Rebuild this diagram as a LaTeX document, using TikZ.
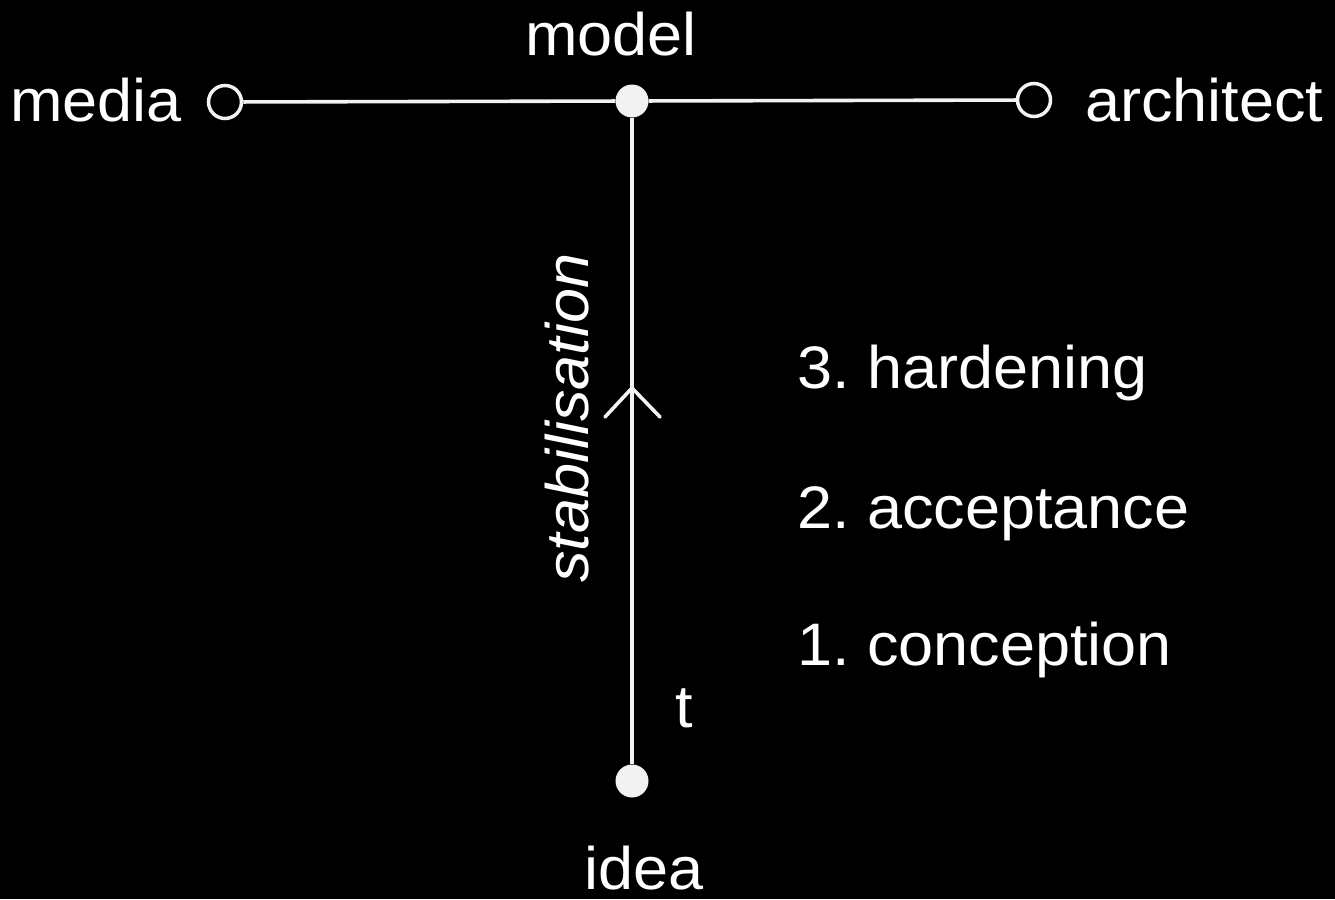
\documentclass[tikz,border=0pt]{standalone}
\usepackage{fontspec}
\setmainfont{Liberation Sans}[FakeStretch=1.05]
\frenchspacing
\begin{document}
\begin{tikzpicture}[x=1pt,y=-1pt,
  lbl/.style={text=white,inner sep=0pt,font=\fontsize{60}{72}\selectfont},
  opendot/.style={circle,draw=white!95!black,fill=black,line width=3.5pt,minimum size=33pt,inner sep=0pt},
  soliddot/.style={circle,fill=white!95!black,minimum size=33pt,inner sep=0pt},
  wire/.style={draw=white!95!black,line width=3.6pt}]
\fill[black] (0,0) rectangle (1335,899);
\useasboundingbox (0,0) rectangle (1335,899);
% dots
\node[opendot] (media) at (225,102) {};
\node[soliddot] (model) at (632,101) {};
\node[opendot] (architect) at (1034,100) {};
\node[soliddot] (idea) at (632,781) {};
% connectors
\draw[wire] (media) -- (model) -- (architect);
\draw[wire] (model) -- (idea);
% direction chevron
\coordinate (tip) at (632,388);
\draw[wire,line cap=round] ([shift={(-27,29)}]tip) -- (tip) -- ([shift={(28,29)}]tip);
% labels
\node[lbl,anchor=base west] (tmedia) at (10,121) {media};
\node[lbl,anchor=base west] (tarch) at (1085,121) {architect};
\node[lbl,anchor=base] (tmodel) at (611,56) {model};
\node[lbl,anchor=base] (tidea) at (644,889) {idea};
\node[lbl,anchor=base west] (tt) at (675,727) {t};
\node[lbl,anchor=base west] (t3) at (797,388) {3. hardening};
\node[lbl,anchor=base west] (t2) at (797,528) {2. acceptance};
\node[lbl,anchor=base west] (t1) at (797,665) {1. conception};
\node[lbl,anchor=base,rotate=90,font=\fontsize{60}{72}\selectfont\itshape] (tstab) at (588,418) {stabilisation};
\end{tikzpicture}
\end{document}
